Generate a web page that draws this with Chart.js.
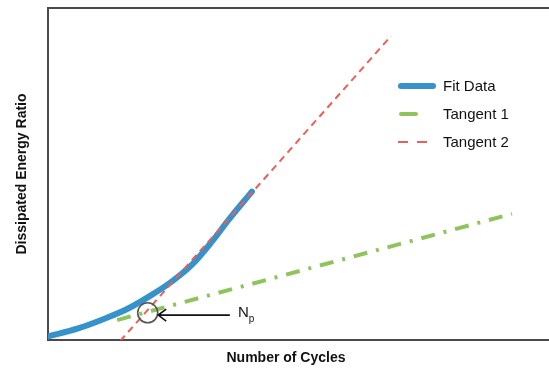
<!DOCTYPE html>
<html>
<head>
<meta charset="utf-8">
<script src="https://cdn.jsdelivr.net/npm/chart.js@4/dist/chart.umd.min.js"></script>
<style>
  html, body { margin: 0; padding: 0; background: #fff; }
  #wrap { width: 549px; height: 374px; }
</style>
</head>
<body>
<div id="wrap"><canvas id="chart" width="549" height="374"></canvas></div>
<script>
// fitted dissipated energy ratio curve (relative units, 0-100)
const fitX = [0, 6.0, 11.4, 16.0, 20.7, 24.7, 28.7, 32.7, 36.0, 40.7];
const fitY = [1.1, 3.5, 6.5, 9.5, 13.6, 17.6, 22.6, 29.6, 36.1, 44.7];

// tangent lines: start and end points
const tan1X = [13.8, 92.6];
const tan1Y = [6.0, 38.0];
const tan2X = [14.4, 68.5];
const tan2Y = [-0.3, 91.6];

// Np marker: intersection circle, arrow tail/head and label
const npPoint = [19.9, 8.2];
const npArrow = [[36.3, 7.5], [22.0, 7.5]];
const npLabel = [37.9, 7.5];

const toPts = (xs, ys) => xs.map((x, i) => ({ x: x, y: ys[i] }));

const FONT = '"Liberation Sans", Arial, Helvetica, sans-serif';

// legend inside the plot area, right side
const boxLegend = {
    id: 'boxLegend',
    afterDatasetsDraw(chart) {
        const ctx = chart.ctx;
        const items = chart.data.datasets.filter(d => d.inLegend);
        let y = 86;
        ctx.save();
        items.forEach(d => {
            ctx.beginPath();
            ctx.lineCap = d.legendCap || 'butt';
            ctx.lineWidth = d.borderWidth;
            ctx.strokeStyle = d.borderColor;
            ctx.setLineDash(d.legendDash || []);
            ctx.moveTo(d.legendFrom || 401, y);
            ctx.lineTo(d.legendTo || 433, y);
            ctx.stroke();
            ctx.setLineDash([]);
            ctx.fillStyle = '#111';
            ctx.font = '15px ' + FONT;
            ctx.textBaseline = 'middle';
            ctx.fillText(d.label, 443, y + 1);
            y += 28;
        });
        ctx.restore();
    }
};

// arrow and Np label pointing at the tangent intersection
const npMarker = {
    id: 'npMarker',
    afterDatasetsDraw(chart) {
        const ctx = chart.ctx;
        const xs = chart.scales.x, ys = chart.scales.y;
        const x0 = xs.getPixelForValue(npArrow[0][0]);
        const y0 = ys.getPixelForValue(npArrow[0][1]);
        const x1 = xs.getPixelForValue(npArrow[1][0]);
        const y1 = ys.getPixelForValue(npArrow[1][1]);
        ctx.save();
        ctx.strokeStyle = '#111';
        ctx.lineWidth = 1.6;
        ctx.beginPath();
        ctx.moveTo(x0, y0);
        ctx.lineTo(x1, y1);
        ctx.moveTo(x1 + 8, y1 - 6);
        ctx.lineTo(x1, y1);
        ctx.lineTo(x1 + 8, y1 + 6);
        ctx.stroke();

        const lx = xs.getPixelForValue(npLabel[0]);
        const ly = ys.getPixelForValue(npLabel[1]);
        ctx.fillStyle = '#111';
        ctx.textBaseline = 'middle';
        ctx.font = '15px ' + FONT;
        ctx.fillText('N', lx, ly - 2);
        const w = ctx.measureText('N').width;
        ctx.font = '10px ' + FONT;
        ctx.fillText('p', lx + w, ly + 4);

        // x axis title
        ctx.font = 'bold 14px ' + FONT;
        ctx.textAlign = 'center';
        ctx.fillText('Number of Cycles', 286, 358);
        ctx.restore();
    }
};

new Chart(document.getElementById('chart'), {
    type: 'scatter',
    data: {
        datasets: [
            {
                label: 'Fit Data',
                inLegend: true,
                data: toPts(fitX, fitY),
                showLine: true,
                borderColor: '#3592cb',
                borderWidth: 6,
                borderCapStyle: 'round',
                borderJoinStyle: 'round',
                legendCap: 'round',
                cubicInterpolationMode: 'monotone',
                pointRadius: 0,
                order: 3
            },
            {
                label: 'Tangent 1',
                inLegend: true,
                data: toPts(tan1X, tan1Y),
                showLine: true,
                borderColor: '#8fc45c',
                borderWidth: 4,
                borderDash: [14, 9, 3, 9],
                legendDash: [],
                legendFrom: 401,
                legendTo: 416,
                legendCap: 'round',
                pointRadius: 0,
                order: 2
            },
            {
                label: 'Tangent 2',
                inLegend: true,
                data: toPts(tan2X, tan2Y),
                showLine: true,
                borderColor: '#ea5f58',
                borderWidth: 2,
                borderDash: [7, 5],
                legendDash: [10, 9],
                legendFrom: 398,
                legendTo: 431,
                pointRadius: 0,
                order: 1
            },
            {
                label: 'Np',
                data: [{ x: npPoint[0], y: npPoint[1] }],
                pointRadius: 10,
                pointBorderWidth: 1.6,
                pointBorderColor: '#555',
                pointBackgroundColor: 'rgba(0,0,0,0)',
                order: 0
            }
        ]
    },
    options: {
        responsive: false,
        animation: false,
        events: [],
        layout: { padding: 0, autoPadding: false },
        plugins: {
            legend: { display: false },
            tooltip: { enabled: false }
        },
        scales: {
            x: {
                type: 'linear',
                position: 'bottom',
                min: 0,
                max: 100,
                grid: { display: false },
                ticks: { display: false },
                border: { display: true, color: '#4a4a4a', width: 2 },
                afterFit(scale) { scale.height = 34; }
            },
            xTop: {
                type: 'linear',
                position: 'top',
                min: 0,
                max: 100,
                grid: { display: false },
                ticks: { display: false },
                border: { display: true, color: '#4a4a4a', width: 2 },
                afterFit(scale) { scale.height = 8; }
            },
            y: {
                type: 'linear',
                min: 0,
                max: 100,
                grid: { display: false },
                ticks: { display: false },
                border: { display: true, color: '#4a4a4a', width: 2 },
                title: {
                    display: true,
                    text: 'Dissipated Energy Ratio',
                    color: '#111',
                    font: { family: FONT, size: 14, weight: 'bold' },
                    padding: { top: 14, bottom: 0 }
                },
                afterFit(scale) { scale.width = 48; }
            }
        }
    },
    plugins: [boxLegend, npMarker]
});
</script>
</body>
</html>
